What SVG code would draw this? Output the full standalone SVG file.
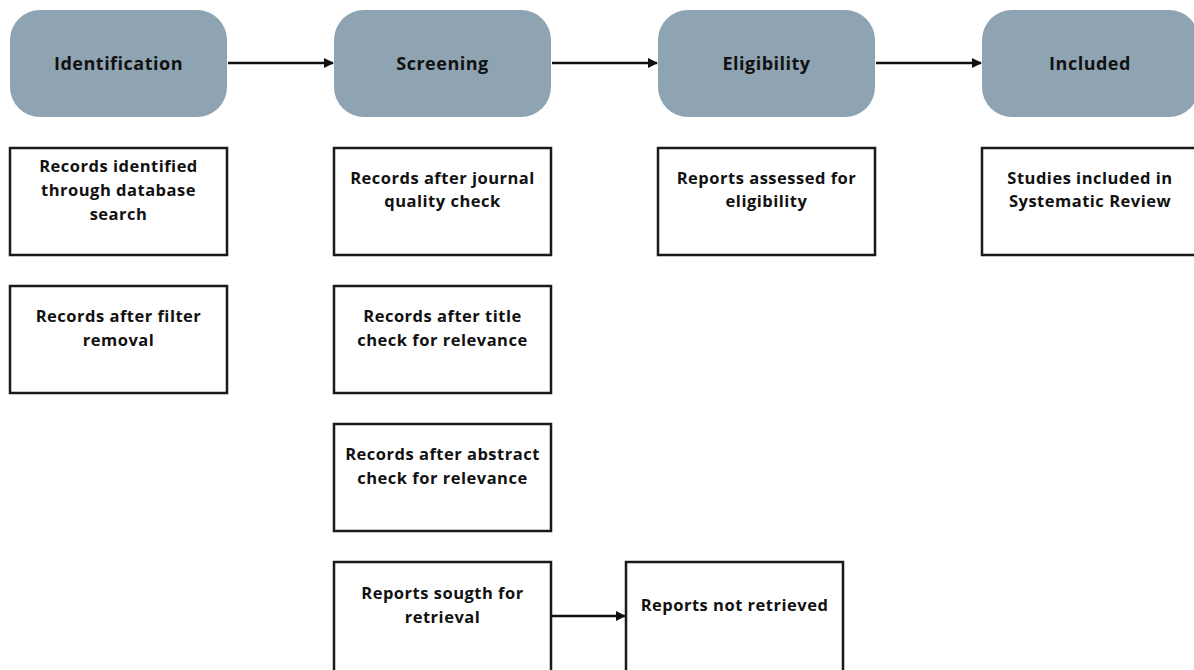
<svg xmlns="http://www.w3.org/2000/svg" width="1194" height="670" viewBox="0 0 1194 670">
  <defs>
    <style>
      .stage { fill: #8fa4b3; }
      .box { fill: #ffffff; stroke: #1a1a1a; stroke-width: 2.5; }
      .t { font-family: "Open Sans", "Liberation Sans", sans-serif; font-weight: bold; font-size: 16.5px; letter-spacing: 0.5px; fill: #111111; text-anchor: middle; }
      .ts { font-size: 18px; }
      .conn { stroke: #111111; stroke-width: 2.5; fill: none; marker-end: url(#arrow); }
    </style>
    <marker id="arrow" viewBox="0 0 10 10" refX="9" refY="5" markerWidth="4" markerHeight="4" orient="auto" markerUnits="strokeWidth">
      <path d="M0,0 L10,5 L0,10 z" fill="#111111"/>
    </marker>
  </defs>
  <rect width="1194" height="670" fill="#ffffff"/>

  <!-- stage headers -->
  <g id="identification">
    <rect class="stage" x="10" y="10" width="217" height="107" rx="30"/>
    <text class="t ts" x="118.5" y="70">Identification</text>
  </g>
  <g id="screening">
    <rect class="stage" x="334" y="10" width="217" height="107" rx="30"/>
    <text class="t ts" x="442.5" y="70">Screening</text>
  </g>
  <g id="eligibility">
    <rect class="stage" x="658" y="10" width="217" height="107" rx="30"/>
    <text class="t ts" x="766.5" y="70">Eligibility</text>
  </g>
  <g id="included">
    <rect class="stage" x="982" y="10" width="217" height="107" rx="30"/>
    <text class="t ts" x="1090" y="70">Included</text>
  </g>

  <!-- record boxes -->
  <g id="records-identified">
    <rect class="box" x="10" y="148" width="217" height="107"/>
    <text class="t" x="118.5" y="172">Records identified</text>
    <text class="t" x="118.5" y="196">through database</text>
    <text class="t" x="118.5" y="220">search</text>
  </g>
  <g id="records-filter">
    <rect class="box" x="10" y="286" width="217" height="107"/>
    <text class="t" x="118.5" y="322">Records after filter</text>
    <text class="t" x="118.5" y="346">removal</text>
  </g>
  <g id="records-journal">
    <rect class="box" x="334" y="148" width="217" height="107"/>
    <text class="t" x="442.5" y="184">Records after journal</text>
    <text class="t" x="442.5" y="207">quality check</text>
  </g>
  <g id="records-title">
    <rect class="box" x="334" y="286" width="217" height="107"/>
    <text class="t" x="442.5" y="322">Records after title</text>
    <text class="t" x="442.5" y="346">check for relevance</text>
  </g>
  <g id="records-abstract">
    <rect class="box" x="334" y="424" width="217" height="107"/>
    <text class="t" x="442.5" y="460">Records after abstract</text>
    <text class="t" x="442.5" y="484">check for relevance</text>
  </g>
  <g id="reports-sought">
    <rect class="box" x="334" y="562" width="217" height="110"/>
    <text class="t" x="442.5" y="599">Reports sougth for</text>
    <text class="t" x="442.5" y="623">retrieval</text>
  </g>
  <g id="reports-not-retrieved">
    <rect class="box" x="626" y="562" width="217" height="110"/>
    <text class="t" x="734.5" y="611">Reports not retrieved</text>
  </g>
  <g id="reports-assessed">
    <rect class="box" x="658" y="148" width="217" height="107"/>
    <text class="t" x="766.5" y="184">Reports assessed for</text>
    <text class="t" x="766.5" y="207">eligibility</text>
  </g>
  <g id="studies-included">
    <rect class="box" x="982" y="148" width="217" height="107"/>
    <text class="t" x="1090" y="184">Studies included in</text>
    <text class="t" x="1090" y="207">Systematic Review</text>
  </g>

  <!-- connectors -->
  <g id="connectors">
    <line class="conn" x1="228" y1="63" x2="333" y2="63"/>
    <line class="conn" x1="552" y1="63" x2="657" y2="63"/>
    <line class="conn" x1="876" y1="63" x2="981" y2="63"/>
    <line class="conn" x1="552" y1="616" x2="625" y2="616"/>
  </g>
</svg>
